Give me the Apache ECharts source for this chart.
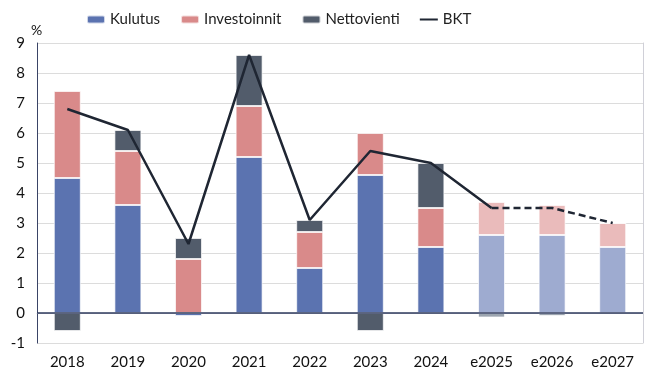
<!DOCTYPE html>
<html>
<head>
<meta charset="utf-8">
<script src="https://cdn.jsdelivr.net/npm/echarts@6/dist/echarts.min.js"></script>
<style>
  html, body { margin: 0; padding: 0; background: #fff; }
  #chart { width: 648px; height: 378px; }
</style>
</head>
<body>
<div id="chart"></div>
<script>
var years = ["2018", "2019", "2020", "2021", "2022", "2023", "2024", "e2025", "e2026", "e2027"];
var kulutus = [4.5, 3.6, -0.1, 5.2, 1.5, 4.6, 2.2, 2.6, 2.6, 2.2];
var investoinnit = [2.9, 1.8, 1.8, 1.7, 1.2, 1.4, 1.3, 1.1, 1.0, 0.8];
var nettovienti = [-0.6, 0.7, 0.7, 1.7, 0.4, -0.6, 1.5, -0.15, -0.1, 0];
var bkt = [6.8, 6.1, 2.3, 8.6, 3.1, 5.4, 5.0, 3.5, 3.5, 3.0];
var firstForecast = 7;

var font = "Lato, 'Open Sans', sans-serif";

// forecast bars are drawn in a lighter tone
function barData(values, color, lightColor) {
    return values.map(function (v, i) {
        return {
            value: v,
            itemStyle: { color: i >= firstForecast ? lightColor : color }
        };
    });
}

var bktSolid = bkt.map(function (v, i) { return i <= firstForecast ? v : "-"; });
var bktDashed = bkt.map(function (v, i) { return i >= firstForecast ? v : "-"; });

var barBorder = { borderColor: "rgba(255,255,255,0.7)", borderWidth: 1 };

// thin line icon for the legend (tiny specks keep the 18x8 box)
var lineIcon = "path://M0,0L0.1,0L0.1,0.1L0,0.1Z M0,3L18,3L18,5L0,5Z M0,7.9L0.1,7.9L0.1,8L0,8Z";

var chart = echarts.init(document.getElementById("chart"));
chart.setOption({
    animation: false,
    textStyle: { fontFamily: font },
    legend: {
        top: 7,
        left: 81,
        itemGap: 20,
        itemWidth: 18,
        itemHeight: 8,
        textStyle: { fontSize: 15, color: "#222", fontFamily: font },
        data: ["Kulutus", "Investoinnit", "Nettovienti", { name: "BKT", icon: lineIcon }]
    },
    grid: { left: 37, right: 5, top: 43, bottom: 35 },
    xAxis: {
        type: "category",
        data: years,
        axisLine: { show: true, lineStyle: { color: "#d0d0d8" } },
        axisTick: { show: false },
        axisLabel: { fontSize: 15, color: "#111", margin: 12, fontFamily: font }
    },
    yAxis: [{
        type: "value",
        min: -1,
        max: 9,
        interval: 1,
        name: "%",
        nameLocation: "end",
        nameGap: 6,
        nameTextStyle: { fontSize: 14, color: "#111", align: "left", padding: [0, 0, 0, -6] },
        axisLine: { show: true, lineStyle: { color: "#3a4466", width: 1 } },
        axisTick: { show: false },
        axisLabel: { fontSize: 15, color: "#111", margin: 12, fontFamily: font },
        splitLine: { lineStyle: { color: "#dcdcdc", width: 1 } }
    }, {
        type: "value",
        min: -1,
        max: 9,
        interval: 1,
        position: "right",
        axisLine: { show: true, lineStyle: { color: "#d0d0d8" } },
        axisTick: { show: false },
        axisLabel: { show: false },
        splitLine: { show: false }
    }],
    series: [{
        name: "Kulutus",
        type: "bar",
        stack: "bkt",
        barWidth: 27,
        color: "#5b73b0",
        itemStyle: barBorder,
        data: barData(kulutus, "#5b73b0", "#9eabd0"),
        markLine: {
            silent: true,
            symbol: "none",
            label: { show: false },
            lineStyle: { color: "#2e3a5c", width: 1.5, type: "solid" },
            data: [{ yAxis: 0 }]
        }
    }, {
        name: "Investoinnit",
        type: "bar",
        stack: "bkt",
        color: "#d98a8a",
        itemStyle: barBorder,
        data: barData(investoinnit, "#d98a8a", "#eabbbb")
    }, {
        name: "Nettovienti",
        type: "bar",
        stack: "bkt",
        color: "#525c6b",
        itemStyle: barBorder,
        data: barData(nettovienti, "#525c6b", "#9ba4af")
    }, {
        name: "BKT",
        type: "line",
        symbol: "none",
        color: "#1f2633",
        lineStyle: { color: "#1f2633", width: 2.5 },
        data: bktSolid,
        z: 5
    }, {
        name: "BKT ennuste",
        type: "line",
        symbol: "none",
        lineStyle: { color: "#1f2633", width: 2.5, type: [7, 4] },
        data: bktDashed,
        z: 5
    }]
});
</script>
</body>
</html>
